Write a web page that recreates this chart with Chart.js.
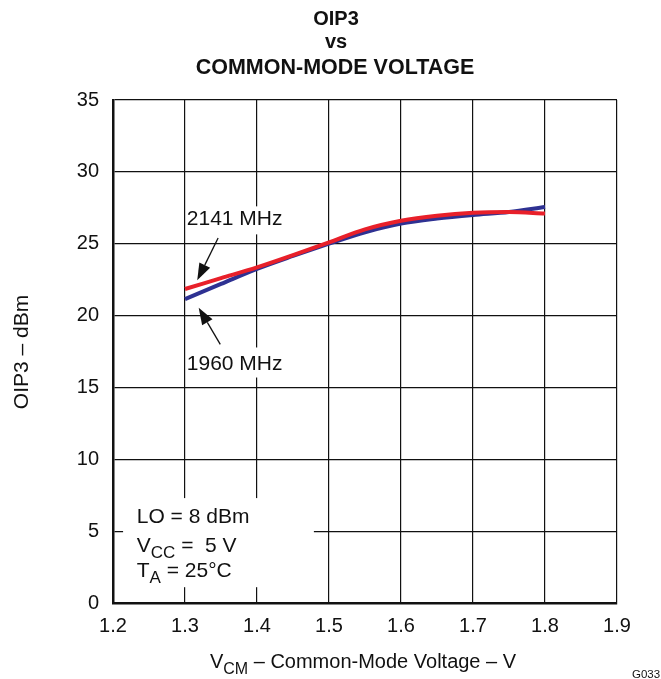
<!DOCTYPE html>
<html lang="en">
  <head>
    <meta charset="utf-8" />
    <title>OIP3 vs Common-Mode Voltage</title>
    <style>
      html, body { margin: 0; padding: 0; background: #fff; }
      .chart-wrapper { width: 661px; height: 679px; }
    </style>
  </head>
  <body>
    <div class="chart-wrapper">
      <canvas id="oip3-chart"></canvas>
    </div>

    <script src="https://cdn.jsdelivr.net/npm/chart.js@4/dist/chart.umd.min.js"></script>
    <script>
      // data
      const vcm = [1.3, 1.35, 1.4, 1.45, 1.5, 1.55, 1.6, 1.65, 1.7, 1.75, 1.8];
      const oip3_2141 = [21.85, 22.6, 23.35, 24.2, 25.1, 26.0, 26.6, 26.95, 27.15, 27.2, 27.1];
      const oip3_1960 = [21.15, 22.2, 23.25, 24.15, 25.0, 25.8, 26.4, 26.75, 27.0, 27.2, 27.55];
      const xTicks = [1.2, 1.3, 1.4, 1.5, 1.6, 1.7, 1.8, 1.9];
      const yTicks = [0, 5, 10, 15, 20, 25, 30, 35];

      const FONT = "'Liberation Sans', Arial, sans-serif";

      function toPoints(xs, ys) {
        return xs.map((x, i) => ({ x: x, y: ys[i] }));
      }

      // text with subscript pieces: [[text, isSub], ...]
      function drawRich(ctx, parts, x, y, size, align, bold) {
        const sub = Math.round(size * 0.8);
        const w8 = bold ? "bold " : "";
        let w = 0;
        parts.forEach(([t, s]) => {
          ctx.font = w8 + (s ? sub : size) + "px " + FONT;
          w += ctx.measureText(t).width;
        });
        let cx = align === "center" ? x - w / 2 : x;
        ctx.textAlign = "left";
        ctx.textBaseline = "alphabetic";
        parts.forEach(([t, s]) => {
          ctx.font = w8 + (s ? sub : size) + "px " + FONT;
          ctx.fillText(t, cx, s ? y + size * 0.3 : y);
          cx += ctx.measureText(t).width;
        });
      }

      function arrow(ctx, x0, y0, x1, y1) {
        const a = Math.atan2(y1 - y0, x1 - x0);
        const len = 17, half = 6;
        ctx.beginPath();
        ctx.moveTo(x0, y0);
        ctx.lineTo(x1 - Math.cos(a) * len, y1 - Math.sin(a) * len);
        ctx.lineWidth = 1.3;
        ctx.strokeStyle = "#111";
        ctx.stroke();
        ctx.beginPath();
        ctx.moveTo(x1, y1);
        ctx.lineTo(x1 - Math.cos(a) * len - Math.sin(a) * half, y1 - Math.sin(a) * len + Math.cos(a) * half);
        ctx.lineTo(x1 - Math.cos(a) * len + Math.sin(a) * half, y1 - Math.sin(a) * len - Math.cos(a) * half);
        ctx.closePath();
        ctx.fillStyle = "#111";
        ctx.fill();
      }

      // white patches over the grid where labels sit, then all the text
      const annotations = {
        id: "annotations",
        beforeDatasetsDraw(chart) {
          const { ctx, scales: { x, y } } = chart;
          ctx.save();
          ctx.fillStyle = "#fff";
          const boxes = [
            [1.214, 7.3, 1.479, 1.1],
            [1.303, 27.6, 1.432, 25.65],
            [1.303, 17.78, 1.432, 15.69],
          ];
          boxes.forEach(([xa, ya, xb, yb]) => {
            const l = x.getPixelForValue(xa), t = y.getPixelForValue(ya);
            ctx.fillRect(l, t, x.getPixelForValue(xb) - l, y.getPixelForValue(yb) - t);
          });
          ctx.restore();
        },
        afterDraw(chart) {
          const { ctx, scales: { x, y } } = chart;
          const px = (v) => x.getPixelForValue(v);
          const py = (v) => y.getPixelForValue(v);
          ctx.save();
          ctx.fillStyle = "#111";

          // title
          drawRich(ctx, [["OIP3", false]], 336, 25, 20, "center", true);
          drawRich(ctx, [["vs", false]], 336, 48, 20, "center", true);
          drawRich(ctx, [["COMMON-MODE VOLTAGE", false]], 335, 74, 21.5, "center", true);

          // curve labels and arrows
          drawRich(ctx, [["2141 MHz", false]], px(1.3025), py(26.3), 21, "left");
          drawRich(ctx, [["1960 MHz", false]], px(1.3025), py(16.2), 21, "left");
          arrow(ctx, px(1.346), py(25.4), px(1.317), py(22.45));
          arrow(ctx, px(1.349), py(18.0), px(1.319), py(20.55));

          // conditions
          drawRich(ctx, [["LO = 8 dBm", false]], px(1.233), py(5.6), 21, "left");
          drawRich(ctx, [["V", false], ["CC", true], [" =  5 V", false]], px(1.233), py(3.55), 21, "left");
          drawRich(ctx, [["T", false], ["A", true], [" = 25°C", false]], px(1.233), py(1.8), 21, "left");

          // axis titles
          drawRich(ctx, [["V", false], ["CM", true], [" – Common-Mode Voltage – V", false]], 363, 668, 20, "center");
          ctx.save();
          ctx.translate(28, 352);
          ctx.rotate(-Math.PI / 2);
          drawRich(ctx, [["OIP3 – dBm", false]], 0, 0, 21, "center");
          ctx.restore();

          drawRich(ctx, [["G033", false]], 632, 678, 11.5, "left");
          ctx.restore();
        },
      };

      const data = {
        datasets: [
          {
            label: "2141 MHz",
            data: toPoints(vcm, oip3_2141),
            borderColor: "#e8202a",
            borderWidth: 4,
            pointRadius: 0,
            showLine: true,
            cubicInterpolationMode: "monotone",
          },
          {
            label: "1960 MHz",
            data: toPoints(vcm, oip3_1960),
            borderColor: "#2e3192",
            borderWidth: 4,
            pointRadius: 0,
            showLine: true,
            cubicInterpolationMode: "monotone",
          },
        ],
      };

      const context = document.getElementById("oip3-chart").getContext("2d");
      const myChart = new Chart(context, {
        type: "scatter",
        data: data,
        plugins: [annotations],
        options: {
          responsive: true,
          maintainAspectRatio: false,
          animation: false,
          layout: { padding: { left: 0, top: 100, right: 44, bottom: 0 } },
          plugins: { legend: { display: false }, tooltip: { enabled: false } },
          scales: {
            x: {
              type: "linear",
              min: 1.2,
              max: 1.9,
              afterFit: (s) => { s.height = 76; },
              afterBuildTicks: (s) => { s.ticks = xTicks.map((v) => ({ value: v })); },
              ticks: {
                padding: 11,
                color: "#111",
                font: { family: FONT, size: 20 },
                callback: (v) => Number(v).toFixed(1),
              },
              grid: { color: "#111", lineWidth: 1.2, drawTicks: false },
              border: { color: "#111", width: 2.5 },
            },
            y: {
              min: 0,
              max: 35,
              afterFit: (s) => { s.width = 113; },
              afterBuildTicks: (s) => { s.ticks = yTicks.map((v) => ({ value: v })); },
              ticks: {
                padding: 14,
                color: "#111",
                font: { family: FONT, size: 20 },
              },
              grid: { color: "#111", lineWidth: 1.2, drawTicks: false },
              border: { color: "#111", width: 2.5 },
            },
          },
        },
      });
    </script>
  </body>
</html>
